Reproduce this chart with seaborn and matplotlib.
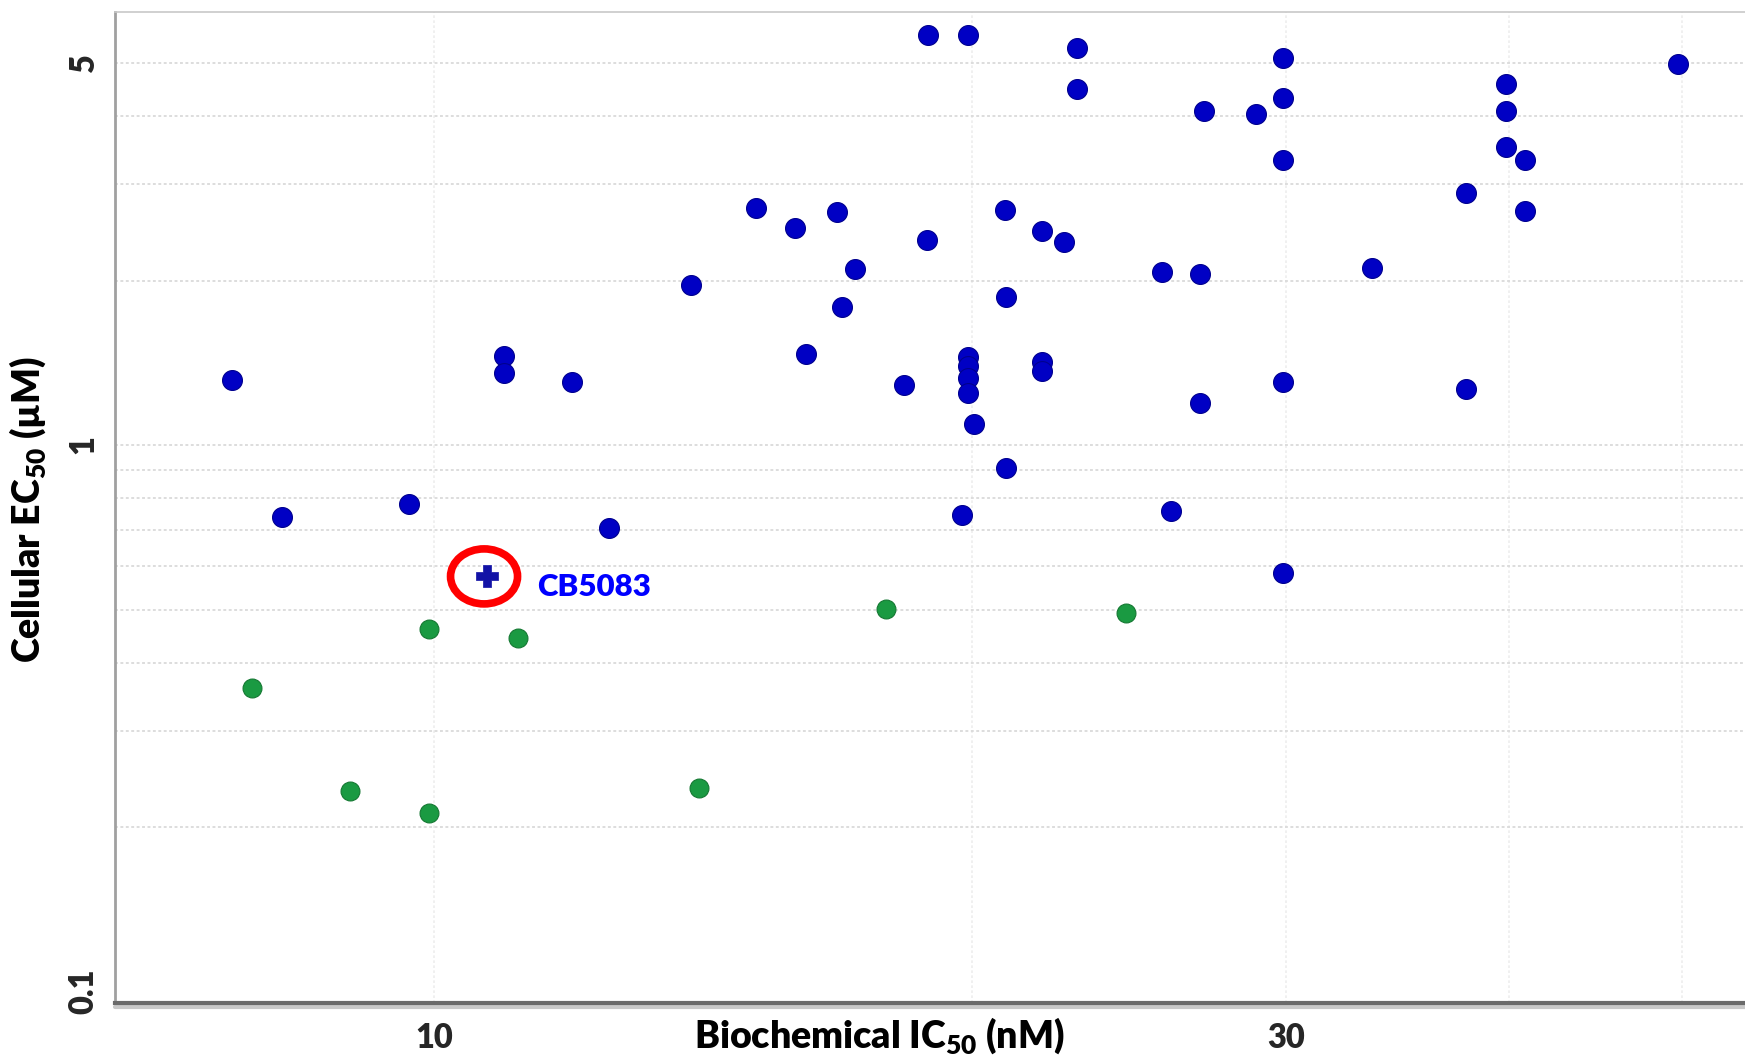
import numpy as np
import pandas as pd
import matplotlib
matplotlib.use("Agg")
import matplotlib.pyplot as plt
import matplotlib.transforms as mtransforms
from matplotlib.patches import Ellipse
from matplotlib.ticker import FixedLocator, NullFormatter
import seaborn as sns

# ---------------- data ----------------
blue_ic50 = [7.71, 8.22, 9.69, 10.95, 10.95, 11.95, 12.53, 13.93, 15.14, 15.92,
             16.15, 16.81, 16.93, 17.20, 18.33, 18.89, 18.91, 19.75, 19.92, 19.92,
             19.92, 19.92, 19.92, 20.06, 20.88, 20.91, 20.91, 21.90, 21.90, 21.90,
             22.54, 22.90, 22.90, 25.57, 25.86, 26.85, 26.85, 26.97, 28.85, 29.87,
             29.87, 29.87, 29.87, 29.87, 33.49, 37.85, 37.85, 39.85, 39.85, 39.85,
             40.83, 40.83, 49.7]
blue_ec50 = [1.313, 0.737, 0.780, 1.455, 1.356, 1.306, 0.704, 1.965, 2.716, 2.496,
             1.469, 2.665, 1.788, 2.098, 1.288, 2.370, 5.62, 0.744, 5.62, 1.448,
             1.395, 1.325, 1.247, 1.093, 2.690, 1.866, 0.906, 2.460, 1.421, 1.369,
             2.348, 5.33, 4.48, 2.069, 0.758, 2.059, 1.195, 4.08, 4.03, 5.11,
             4.32, 3.32, 1.306, 0.583, 2.108, 2.886, 1.264, 4.57, 4.08, 3.51,
             3.32, 2.678, 4.99]
green_ic50 = [7.91, 8.97, 9.94, 9.94, 11.15, 14.07, 17.91, 24.39]
green_ec50 = [0.360, 0.2326, 0.461, 0.2118, 0.444, 0.2359, 0.502, 0.493]
cb5083_ic50 = [10.71]
cb5083_ec50 = [0.575]
cb5083_label = "CB5083"
label_pos = (11.43, 0.5497)

x_ticks = [10, 30]
x_tick_labels = ["10", "30"]
y_ticks = [0.1, 1, 5]
y_tick_labels = ["0.1", "1", "5"]
x_grid = [10, 20, 30, 40, 50]
y_grid = [0.2, 0.3, 0.4, 0.5, 0.6, 0.7, 0.8, 0.9, 1, 2, 3, 4, 5]
x_label = "Biochemical IC$_{50}$ (nM)"
y_label = "Cellular EC$_{50}$ (\u00b5M)"

# ---------------- style ----------------
sns.set_theme(style="white")
plt.rcParams['font.family'] = ['Lato', 'DejaVu Sans']
plt.rcParams['font.weight'] = 'heavy'
plt.rcParams['mathtext.default'] = 'regular'

blue_df = pd.DataFrame({"ic50": blue_ic50, "ec50": blue_ec50})
green_df = pd.DataFrame({"ic50": green_ic50, "ec50": green_ec50})
cb_df = pd.DataFrame({"ic50": cb5083_ic50, "ec50": cb5083_ec50})

W, H = 1745, 1059
fig = plt.figure(figsize=(W / 100, H / 100), dpi=100)
ax = fig.add_axes([115 / W, 1 - 1003 / H, (W - 115) / W, (1003 - 12) / H])
ax.set_xscale('log')
ax.set_yscale('log')

sns.scatterplot(data=blue_df, x="ic50", y="ec50", color="#0000c4", edgecolor="#00008f",
                linewidth=0.8, s=205, ax=ax, legend=False, zorder=3)
sns.scatterplot(data=green_df, x="ic50", y="ec50", color="#1a9a42", edgecolor="#147832",
                linewidth=0.8, s=185, ax=ax, legend=False, zorder=3)
sns.scatterplot(data=cb_df, x="ic50", y="ec50", color="#1212a6", edgecolor="#1212a6",
                marker="P", s=230, linewidth=0.5, ax=ax, legend=False, zorder=4)

ax.set_xlim(6.63, 54.2)
ax.set_ylim(0.0953, 6.20)

# red ellipse around CB5083 (fixed size in inches, anchored at the data point)
trans = fig.dpi_scale_trans + mtransforms.ScaledTranslation(cb5083_ic50[0], cb5083_ec50[0], ax.transData)
ell = Ellipse((-0.03, 0.0), 0.67, 0.55, transform=trans, fill=False,
              edgecolor="#ff0000", linewidth=5.5, zorder=5)
ax.add_patch(ell)

ax.text(label_pos[0], label_pos[1], cb5083_label, color="#0000ff", fontsize=22.5,
        fontweight='heavy', ha='left', va='center', zorder=5)

# ticks
ax.set_xticks(x_ticks)
ax.set_xticklabels(x_tick_labels, fontweight='heavy')
ax.set_yticks(y_ticks)
ax.set_yticklabels(y_tick_labels, fontweight='heavy')
ax.xaxis.set_minor_locator(FixedLocator(x_grid))
ax.yaxis.set_minor_locator(FixedLocator(y_grid))
ax.xaxis.set_minor_formatter(NullFormatter())
ax.yaxis.set_minor_formatter(NullFormatter())
ax.xaxis.remove_overlapping_locs = False
ax.yaxis.remove_overlapping_locs = False
ax.tick_params(axis='both', which='both', length=0)
ax.tick_params(axis='x', which='major', labelsize=23.5, pad=14)
ax.tick_params(axis='y', which='major', labelsize=23.5, pad=11, labelrotation=90)
for lbl in ax.get_yticklabels():
    lbl.set_verticalalignment('center')

ax.grid(False, which='major')
ax.grid(True, which='minor', axis='y', color='#dadada', linestyle=(0, (1.6, 1.4)), linewidth=1.3)
ax.grid(True, which='minor', axis='x', color='#eeeeee', linestyle=(0, (1.6, 1.4)), linewidth=1.2)
ax.set_axisbelow(True)

# spines
ax.spines['right'].set_visible(False)
ax.spines['top'].set_color('#c8c8c8')
ax.spines['top'].set_linewidth(1.2)
ax.spines['left'].set_color('#a0a0a0')
ax.spines['left'].set_linewidth(2)
ax.spines['bottom'].set_color('#6a6a6a')
ax.spines['bottom'].set_linewidth(3)
ax.plot([0, 1], [-0.004, -0.004], transform=ax.transAxes, clip_on=False,
        color='#c8c8c8', linewidth=3, zorder=0)

# axis labels
ax.set_xlabel(x_label, fontsize=27, fontweight='heavy', color='black')
ax.xaxis.set_label_coords(0.469, -0.012)
ax.set_ylabel(y_label, fontsize=27, fontweight='heavy', color='black')
ax.yaxis.set_label_coords(-0.041, 0.4985)

fig.savefig("out.png", dpi=100, facecolor='white')
